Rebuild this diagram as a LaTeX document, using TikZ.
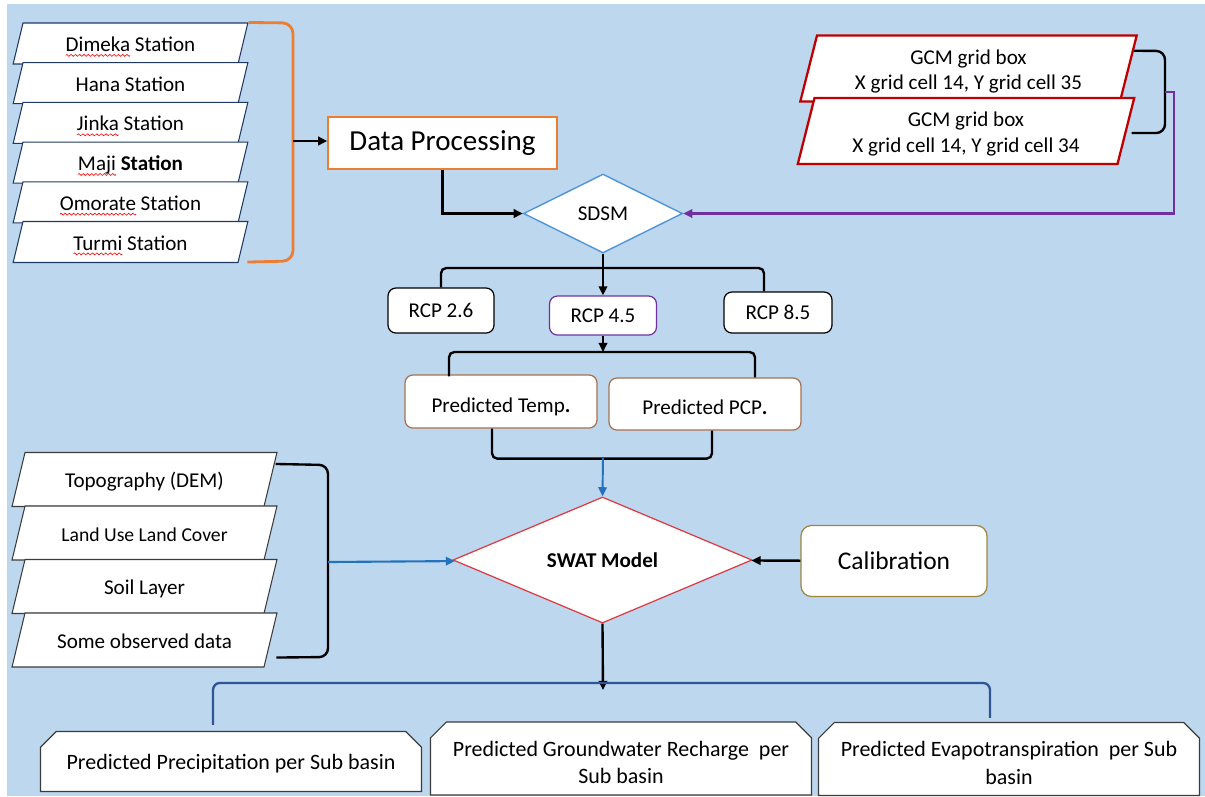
\documentclass[tikz,border=0pt]{standalone}
\usepackage{fontspec}
\setmainfont{Carlito}
\usetikzlibrary{arrows.meta,calc,shapes.geometric,shapes.misc}
\definecolor{sheet}{RGB}{189,215,238}
\definecolor{navy}{RGB}{32,56,100}
\definecolor{orangeacc}{RGB}{237,125,49}
\definecolor{bluelink}{RGB}{36,114,190}
\definecolor{sdsmblue}{RGB}{80,150,215}
\definecolor{gcmred}{RGB}{192,0,0}
\definecolor{swatred}{RGB}{222,58,68}
\definecolor{rcpviolet}{RGB}{112,48,160}
\definecolor{clay}{RGB}{168,112,78}
\definecolor{olivebd}{RGB}{158,134,62}
\definecolor{outblue}{RGB}{47,85,151}
\definecolor{graybd}{RGB}{60,60,60}
\def\pxu{0.02cm}
% red spell-check wave under a word
\newsavebox\wavebox
\newlength\wordwd
\newcommand\spellmark[1]{\settowidth{\wordwd}{#1}\leavevmode
  \rlap{\raisebox{-2.8pt}[0pt][0pt]{\hbox to\wordwd{\xleaders\copy\wavebox\hfil}}}#1}

\begin{document}
\sbox\wavebox{\pgfpicture
  \pgfpathmoveto{\pgfpointorigin}
  \pgfpathsine{\pgfpoint{0.6pt}{0.55pt}}\pgfpathcosine{\pgfpoint{0.6pt}{-0.55pt}}
  \pgfpathsine{\pgfpoint{0.6pt}{-0.55pt}}\pgfpathcosine{\pgfpoint{0.6pt}{0.55pt}}
  \pgfsetlinewidth{0.35pt}\pgfsetstrokecolor{red}\pgfusepath{stroke}
  \pgfresetboundingbox
  \pgfpathrectangle{\pgfpoint{0pt}{-0.6pt}}{\pgfpoint{2.4pt}{1.2pt}}\pgfusepath{use as bounding box}
\endpgfpicture}
\begin{tikzpicture}[x=0.02cm, y=-0.02cm, font=\fontsize{12}{14.6}\selectfont,
  >={Triangle[length=5.2pt,width=4.8pt]},
  flow/.style={line width=1.35pt},
  slab/.style={trapezium, trapezium left angle=76.5, trapezium right angle=103.5, draw,
    fill=white, inner xsep=0pt, align=flush center, line width=0.6pt},
  oneline/.style={text height=10.3pt, text depth=1.2pt},
  pill/.style={rectangle, rounded corners=4.5pt, draw, fill=white, line width=0.7pt},
  snip/.style={chamfered rectangle, chamfered rectangle corners={north west,north east},
    chamfered rectangle xsep=4.5pt, chamfered rectangle ysep=4.5pt, draw=graybd, fill=white,
    line width=0.7pt, align=center, inner ysep=1pt, minimum width={381*\pxu},
    minimum height={60*\pxu}, font=\fontsize{12.5}{15.4}\selectfont}]
\useasboundingbox (0,0) rectangle (1205,796);
\fill[sheet] (7,4) rectangle (1205,796);

% weather stations
\foreach \id/\txt [count=\i] in {dim/{\spellmark{Dimeka} Station}, han/{Hana Station},
    jin/{\spellmark{Jinka} Station}, maj/{\spellmark{Maji} \textbf{Station}},
    omo/{\spellmark{Omorate} Station}, tur/{\spellmark{Turmi} Station}}
  \node[slab, oneline, draw=navy, text width={215*\pxu}, inner ysep={10.4*\pxu}]
    (\id) at (130.5,{43.5+39.7*(\i-1)}) {\txt};
\draw[flow, orangeacc, line width=1.6pt, rounded corners=6pt]
  (dim.top right corner) -- (293,23) -- (293,261) -- ($(tur.bottom right corner)+(9,-1)$);
\coordinate (stbr) at (293,141);

\node[draw=orangeacc, fill=white, line width=0.8pt, minimum width={229*\pxu},
  minimum height={52*\pxu}, font=\fontsize{16.5}{20}\selectfont] (dp) at (442.5,143) {Data Processing};
\draw[flow,->] (stbr) -- (stbr -| dp.west);

\node[diamond, draw=sdsmblue, fill=white, line width=0.8pt, inner sep=0pt,
  minimum width={159*\pxu}, minimum height={79*\pxu}] (sdsm) at (603,213.5) {SDSM};
\draw[flow,->] (dp.south) |- (sdsm.west);

% GCM grid boxes
\foreach \id/\cx/\cy/\cell in {gcmA/968.5/68.5/35, gcmB/966/131/34}
  \node[slab, trapezium left angle=75.8, trapezium right angle=104.2, draw=gcmred,
    line width=1.3pt, text width={303*\pxu}, text height=10.75pt, text depth=15.85pt,
    inner ysep=5.5pt] (\id) at (\cx,\cy) {GCM grid box\\X grid cell 14, Y grid cell \cell};
\draw[flow, rounded corners=5pt]
  ($(gcmA.top right corner)!0.24!(gcmA.bottom right corner)$) -- (1165,51)
  -- (1165,133) -- ($(gcmB.top right corner)!0.53!(gcmB.bottom right corner)+(5,0)$);
\coordinate (gcmbr) at (1165,92);
\draw[flow, line width=1.2pt, rcpviolet, ->] (gcmbr) -- (1174,92) |- (sdsm.east);

% scenarios
\node[pill, minimum width={106*\pxu}, minimum height={45*\pxu}] (rcpA) at (441,310.5) {RCP 2.6};
\node[pill, draw=rcpviolet, minimum width={107*\pxu}, minimum height={39*\pxu}] (rcpB) at (603,315.5) {RCP 4.5};
\node[pill, minimum width={108*\pxu}, minimum height={41*\pxu}] (rcpC) at (778,312.5) {RCP 8.5};
\draw[flow, rounded corners=3pt] (rcpA.north) |- (764,268) -- ($(rcpC.north)+(-14,0)$);
\draw[flow,->] (sdsm.south) -- (rcpB.north);

\node[pill, draw=clay, text height=12.7pt, text depth=0.5pt, minimum width={192*\pxu},
  minimum height={53*\pxu}] (ptemp) at (501,401.5) {Predicted Temp\textbf{.}};
\node[pill, draw=clay, text height=12.7pt, text depth=0.5pt, minimum width={192*\pxu},
  minimum height={52*\pxu}] (ppcp) at (705,404) {Predicted PCP\textbf{.}};
\coordinate (tsplit) at (603,352);
\draw[flow,->] (rcpB.south) -- (tsplit);
\draw[flow, rounded corners=3pt] ($(ptemp.north)+(-52,2)$) |- (tsplit) -| ($(ppcp.north)+(50,0)$);
\draw[flow, rounded corners=3pt] ($(ptemp.south)+(-9,0)$) |- ($(ppcp.south)+(7,28)$) -- ($(ppcp.south)+(7,0)$);
\coordinate (tmerge) at (603,458);

% model and its inputs
\node[diamond, draw=swatred, fill=white, line width=0.7pt, inner sep=0pt,
  font=\fontsize{12}{14.6}\selectfont\bfseries,
  minimum width={299*\pxu}, minimum height={106*\pxu}] (swat) at (602.5,560) {SWAT Model};
\draw[line width=1.1pt, bluelink, ->] (tmerge) -- (swat.north);

\foreach \id/\txt/\fs [count=\i] in {topo/{Topography (DEM)}/12, lulc/{Land Use Land Cover}/11.2,
    soil/{Soil Layer}/12, obs/{Some observed data}/12}
  \node[slab, oneline, draw=graybd, text width={239*\pxu}, inner ysep={16.9*\pxu},
    font=\fontsize{\fs}{14}\selectfont] (\id) at (144.5,{479.5+53.5*(\i-1)}) {\txt};
\draw[flow, rounded corners=5pt] ($(topo.top right corner)+(-2,12)$) -- (328,465)
  -- (328,657) -- ($(obs.bottom right corner)+(12,-10)$);
\coordinate (lubr) at (328,562);
\draw[flow, line width=1.2pt, bluelink, ->] (lubr) -- (swat);

\node[pill, draw=olivebd, rounded corners=6pt, minimum width={186*\pxu}, minimum height={71*\pxu},
  font=\fontsize{14.5}{17}\selectfont] (calib) at (894,561) {Calibration};
\draw[flow,->] (calib) -- (swat);

% outputs per sub basin
\foreach \id/\cx/\cy/\th/\txt in {outA/231/761.5/10.5/{Predicted Precipitation per Sub basin},
    outB/621/758.5/29.5/{Predicted Groundwater Recharge~ per\\Sub basin},
    outC/1009/759/29.5/{Predicted Evapotranspiration~ per Sub\\basin}}
  \node[snip, text height=\th pt, text depth=1pt] (\id) at (\cx,\cy) {\txt};
\coordinate (osplit) at (603,690);
\draw[flow,->] (swat.south) -- (osplit);
\draw[line width=1.3pt, outblue, rounded corners=4pt] ($(outA.north)+(-18,-6)$)
  |- ($(outC.north)+(-19,-39)$) -- ($(outC.north)+(-19,-4)$);
\end{tikzpicture}
\end{document}
